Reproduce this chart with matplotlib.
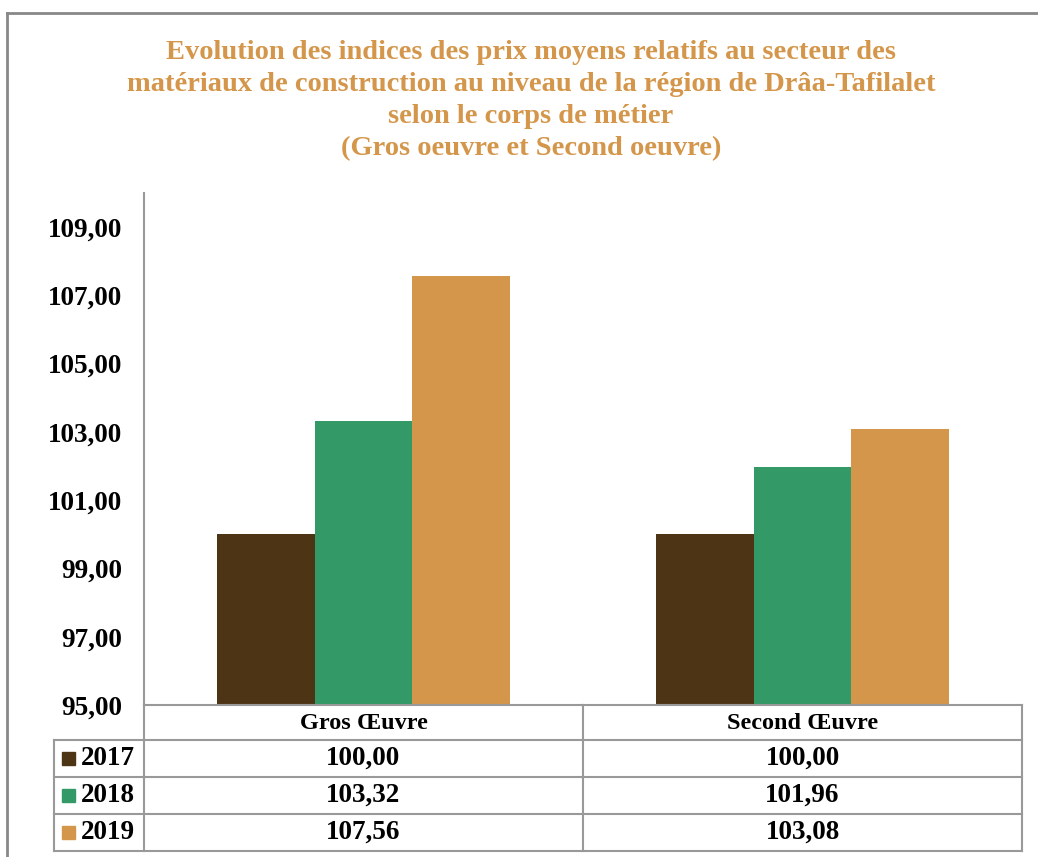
import numpy as np
import matplotlib.pyplot as plt
from matplotlib.lines import Line2D
from matplotlib.patches import Rectangle

# Données
categories = ['Gros Œuvre', 'Second Œuvre']
annees = ['2017', '2018', '2019']
valeurs = {
    '2017': [100.00, 100.00],
    '2018': [103.32, 101.96],
    '2019': [107.56, 103.08],
}
couleurs = ['#4D3415', '#339966', '#D4964A']
yticks = np.arange(95, 110, 2)

titre = ("Evolution des indices des prix moyens relatifs au secteur des\n"
         "matériaux de construction au niveau de la région de Drâa-Tafilalet\n"
         "selon le corps de métier\n"
         "(Gros oeuvre et Second oeuvre)")

W, H = 1038, 857
fig = plt.figure(figsize=(W / 100, H / 100), dpi=100)

def fx(px):
    return px / W

def fy(py):
    return 1 - py / H

serif = 'Liberation Serif'
gris = '#999999'

# Axe des barres
ax = fig.add_axes([fx(144), fy(705), fx(1022) - fx(144), fy(193) - fy(705)])
x = np.arange(len(categories))
w = 0.222
for i, an in enumerate(annees):
    ax.bar(x + (i - 1) * w, np.array(valeurs[an]) - 95, width=w, bottom=95,
           color=couleurs[i], edgecolor='none')
ax.set_xlim(-0.5, 1.5)
ax.set_ylim(95, 110)
ax.set_yticks(yticks)
ax.set_yticklabels([f'{v:.2f}'.replace('.', ',') for v in yticks],
                   fontfamily=serif, fontweight='bold', fontsize=19.5)
ax.tick_params(axis='y', length=0, pad=16)
ax.set_xticks([])
for s in ['top', 'right', 'bottom']:
    ax.spines[s].set_visible(False)
ax.spines['left'].set_color(gris)
ax.spines['left'].set_linewidth(1.5)

# Titre
fig.text(fx(531), fy(101), titre, ha='center', va='center', color='#D4964A',
         fontfamily=serif, fontweight='bold', fontsize=20.5, linespacing=1.37)

# Tableau de données (en pixels)
ov = fig.add_axes([0, 0, 1, 1])
ov.set_xlim(0, W)
ov.set_ylim(H, 0)
ov.axis('off')

cols = [144, 583, 1022]
rows = [705, 740, 777, 814, 851]
lab_x = 54

def ligne(xs, ys, c=gris, lw=1.5):
    ov.add_line(Line2D(xs, ys, color=c, lw=lw))

# cadre extérieur
ligne([7, W], [13, 13], c='#888888', lw=2)
ligne([7, 7], [13, H], c='#888888', lw=2)

ligne([cols[0], cols[-1]], [rows[0], rows[0]])
for r in rows[1:]:
    ligne([lab_x, cols[-1]], [r, r])
for c in cols:
    ligne([c, c], [rows[0], rows[-1]])
ligne([lab_x, lab_x], [rows[1], rows[-1]])

for j, cat in enumerate(categories):
    xc = (cols[j] + cols[j + 1]) / 2
    ov.text(xc, (rows[0] + rows[1]) / 2 + 1, cat, ha='center', va='center',
            fontfamily=serif, fontweight='bold', fontsize=17.5)

for i, an in enumerate(annees):
    yc = (rows[i + 1] + rows[i + 2]) / 2
    ov.add_patch(Rectangle((62, yc - 6.5), 13, 13, color=couleurs[i]))
    ov.text(81, yc, an, ha='left', va='center',
            fontfamily=serif, fontweight='bold', fontsize=19.5)
    for j in range(len(categories)):
        xc = (cols[j] + cols[j + 1]) / 2
        ov.text(xc, yc, f'{valeurs[an][j]:.2f}'.replace('.', ','),
                ha='center', va='center',
                fontfamily=serif, fontweight='bold', fontsize=19.5)

fig.savefig('out.png', dpi=100)
